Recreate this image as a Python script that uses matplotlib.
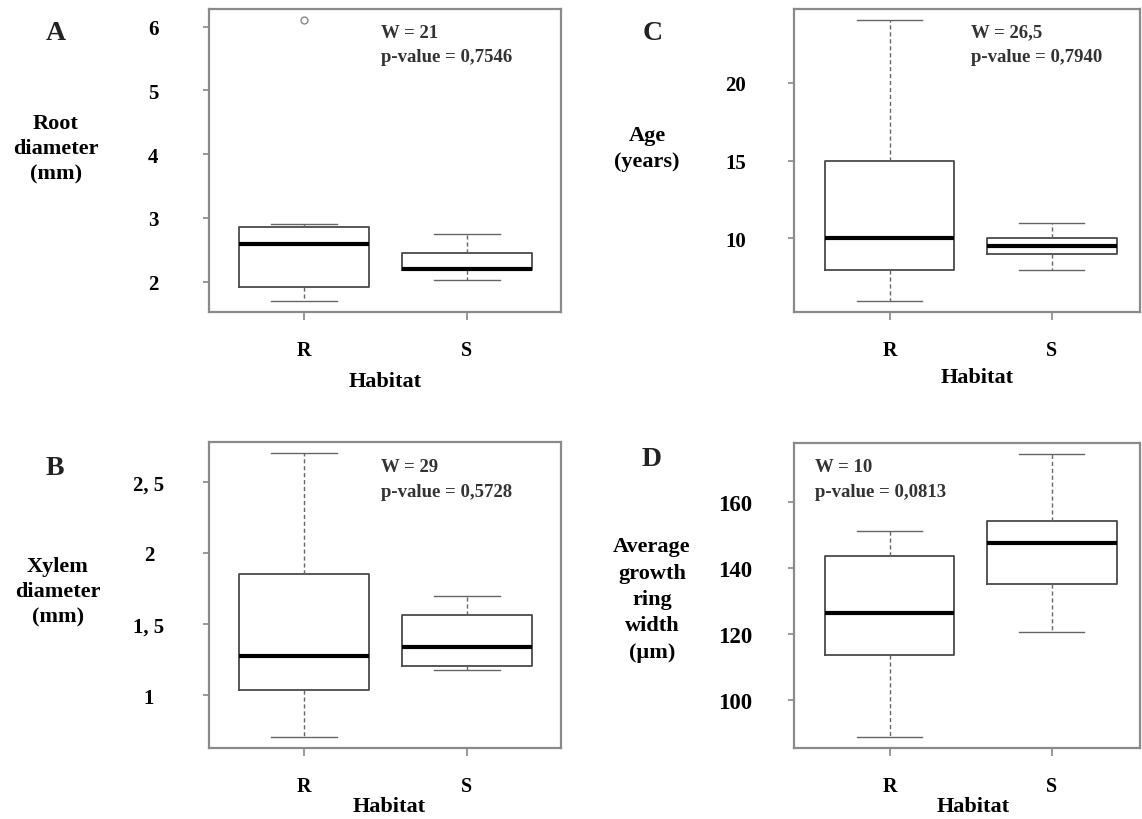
import matplotlib
matplotlib.use("Agg")
import matplotlib.pyplot as plt

plt.rcParams['font.family'] = ['Liberation Serif', 'DejaVu Serif']
plt.rcParams['font.weight'] = 'bold'

habitat = ['R', 'S']

# Panel A: Root diameter (mm)
root_whislo = [1.70, 2.03]
root_q1 = [1.91, 2.18]
root_med = [2.59, 2.20]
root_q3 = [2.86, 2.45]
root_whishi = [2.90, 2.75]
root_fliers = [[6.1], []]
root_ticks = [2, 3, 4, 5, 6]
root_ticklabels = ['2', '3', '4', '5', '6']

# Panel B: Xylem diameter (mm)
xyl_whislo = [0.71, 1.18]
xyl_q1 = [1.035, 1.207]
xyl_med = [1.28, 1.338]
xyl_q3 = [1.85, 1.566]
xyl_whishi = [2.70, 1.696]
xyl_fliers = [[], []]
xyl_ticks = [1, 1.5, 2, 2.5]
xyl_ticklabels = ['1', '1, 5', '2', '2, 5']

# Panel C: Age (years)
age_whislo = [6.0, 8.0]
age_q1 = [8.0, 9.0]
age_med = [10.0, 9.5]
age_q3 = [15.0, 10.0]
age_whishi = [24.0, 11.0]
age_fliers = [[], []]
age_ticks = [10, 15, 20]
age_ticklabels = ['10', '15', '20']

# Panel D: Average growth ring width (um)
ring_whislo = [88.9, 120.7]
ring_q1 = [113.8, 135.1]
ring_med = [126.4, 147.8]
ring_q3 = [143.8, 154.4]
ring_whishi = [151.3, 174.6]
ring_fliers = [[], []]
ring_ticks = [100, 120, 140, 160]
ring_ticklabels = ['100', '120', '140', '160']

W, H = 1142, 820
fig = plt.figure(figsize=(W / 100, H / 100), dpi=100)


def px_axes(x0, y0, x1, y1):
    return fig.add_axes([x0 / W, 1 - y1 / H, (x1 - x0) / W, (y1 - y0) / H])


def draw_panel(ax, whislo, q1, med, q3, whishi, fliers, ticks, ticklabels, pad,
               ha='right', tsize=15, xlim=(0.417, 2.577)):
    stats = []
    for i in range(len(habitat)):
        stats.append(dict(whislo=whislo[i], q1=q1[i], med=med[i], q3=q3[i],
                          whishi=whishi[i], fliers=fliers[i], label=habitat[i]))
    ax.bxp(stats, positions=[1, 2], widths=0.8, showfliers=True,
           boxprops=dict(color='#4a4a4a', linewidth=1.3),
           medianprops=dict(color='black', linewidth=3),
           whiskerprops=dict(color='#666666', linewidth=1.0, linestyle=(0, (3, 2))),
           capprops=dict(color='#666666', linewidth=1.0),
           capwidths=0.4,
           flierprops=dict(marker='o', markersize=5, markerfacecolor='none',
                           markeredgecolor='#888888', markeredgewidth=1))
    lo = min(min(whislo), min([min(f) for f in fliers if f] or [min(whislo)]))
    hi = max(max(whishi), max([max(f) for f in fliers if f] or [max(whishi)]))
    rng = hi - lo
    ax.set_ylim(lo - 0.04 * rng, hi + 0.04 * rng)
    ax.set_xlim(*xlim)
    ax.set_yticks(ticks)
    ax.set_yticklabels(ticklabels, fontsize=tsize, fontweight='bold')
    for lab in ax.get_yticklabels():
        lab.set_horizontalalignment(ha)
    ax.set_xticks([1, 2])
    ax.set_xticklabels(habitat, fontsize=14.5, fontweight='bold')
    ax.tick_params(axis='y', length=4.3, color='#888888', pad=pad, width=1.2)
    ax.tick_params(axis='x', length=6, color='#888888', pad=14, width=1.2)
    for s in ax.spines.values():
        s.set_color('#8a8a8a')
        s.set_linewidth(1.6)


axA = px_axes(209, 10, 561, 313)
draw_panel(axA, root_whislo, root_q1, root_med, root_q3, root_whishi, root_fliers,
           root_ticks, root_ticklabels, pad=32)
axC = px_axes(794, 10, 1140, 313)
draw_panel(axC, age_whislo, age_q1, age_med, age_q3, age_whishi, age_fliers,
           age_ticks, age_ticklabels, pad=30, xlim=(0.41, 2.545))
axB = px_axes(209, 443, 561, 749)
draw_panel(axB, xyl_whislo, xyl_q1, xyl_med, xyl_q3, xyl_whishi, xyl_fliers,
           xyl_ticks, xyl_ticklabels, pad=39, ha='center')
axD = px_axes(794, 444, 1140, 749)
draw_panel(axD, ring_whislo, ring_q1, ring_med, ring_q3, ring_whishi, ring_fliers,
           ring_ticks, ring_ticklabels, pad=26, tsize=16.5, xlim=(0.41, 2.545))


def ftext(x, y, s, **kw):
    fig.text(x / W, 1 - y / H, s, **kw)


# panel letters
for (x, y, s) in [(56, 33, 'A'), (653, 33, 'C'), (55, 469, 'B'), (652, 460, 'D')]:
    ftext(x, y, s, fontsize=20, fontweight='bold', ha='center', va='center', color='#222222')

# y labels
ylab_kw = dict(fontsize=16, fontweight='bold', ha='center', va='center', linespacing=1.36)
ftext(56, 149, 'Root\ndiameter\n(mm)', **ylab_kw)
ftext(647, 149, 'Age\n(years)', **ylab_kw)
ftext(58, 592, 'Xylem\ndiameter\n(mm)', **ylab_kw)
ftext(652, 600, 'Average\ngrowth\nring\nwidth\n(\u00b5m)', fontsize=16, fontweight='bold',
      ha='center', va='center', linespacing=1.42)

# x labels
for (x, y) in [(385, 382), (977, 378), (389, 807), (973, 807)]:
    ftext(x, y, 'Habitat', fontsize=16, fontweight='bold', ha='center', va='center')

# statistics
stat_kw = dict(fontsize=13.5, fontweight='bold', ha='left', va='center', color='#333333')
ftext(381, 33, 'W = 21', **stat_kw)
ftext(381, 58, 'p-value = 0,7546', **stat_kw)
ftext(971, 33, 'W = 26,5', **stat_kw)
ftext(971, 58, 'p-value = 0,7940', **stat_kw)
ftext(381, 468, 'W = 29', **stat_kw)
ftext(381, 493, 'p-value = 0,5728', **stat_kw)
ftext(815, 468, 'W = 10', **stat_kw)
ftext(815, 493, 'p-value = 0,0813', **stat_kw)

fig.savefig('out.png', dpi=100, facecolor='white')
